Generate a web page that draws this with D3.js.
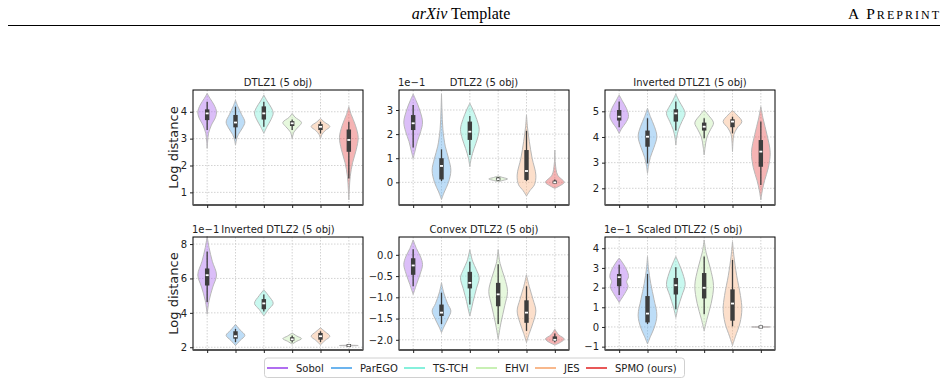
<!DOCTYPE html>
<html>
<head>
<meta charset="utf-8">
<script src="https://cdn.jsdelivr.net/npm/d3@7/dist/d3.min.js"></script>
<style>
  body { margin: 0; background: #fff; }
  svg text { font-family: "DejaVu Sans", sans-serif; fill: #222; }
  .hdr { font-family: "Liberation Serif", serif; fill: #000; }
  .grid line { stroke: #c8c8c8; stroke-width: 0.8; stroke-dasharray: 1.5 1.5; }
  .axis path { display: none; }
  .axis line { stroke: #222; }
  .axis text { font-size: 10px; }
</style>
</head>
<body>
<svg id="chart" width="948" height="385"></svg>
<script>
const methods = ["Sobol", "ParEGO", "TS-TCH", "EHVI", "JES", "SPMO (ours)"]
const colors = ["#b06ef0", "#6cb4ee", "#86f0dc", "#c8f0b4", "#f8b88c", "#e85858"]

const titles = ["DTLZ1 (5 obj)", "DTLZ2 (5 obj)", "Inverted DTLZ1 (5 obj)",
  "Inverted DTLZ2 (5 obj)", "Convex DTLZ2 (5 obj)", "Scaled DTLZ2 (5 obj)"]
const offsets = ["", "1e\u22121", "", "1e\u22121", "", "1e\u22121"]
const yDomains = [[0.53, 4.81], [-0.94, 3.83], [1.35, 5.83], [1.84, 8.41], [-2.24, 0.42], [-1.17, 4.57]]
const yTicks = [[1, 2, 3, 4], [0, 1, 2, 3], [2, 3, 4, 5], [2, 4, 6, 8], [-2, -1.5, -1, -0.5, 0], [-1, 0, 1, 2, 3, 4]]
const tickFmt = ["d", "d", "d", "d", ".1f", "d"]

// box stats per method: [whisker low, q1, median, q3, whisker high]
const boxDTLZ1 = [[3.32, 3.69, 3.94, 4.09, 4.37], [3.0, 3.42, 3.6, 3.88, 4.19], [3.44, 3.71, 3.94, 4.2, 4.37],
  [3.32, 3.47, 3.57, 3.65, 3.71], [3.19, 3.32, 3.44, 3.54, 3.63], [1.52, 2.51, 2.95, 3.34, 3.63]]
const boxDTLZ2 = [[1.45, 2.17, 2.45, 2.79, 3.21], [0.05, 0.12, 0.68, 1.0, 1.37], [1.13, 1.76, 2.1, 2.52, 2.75],
  [0.06, 0.08, 0.13, 0.2, 0.22], [0.05, 0.1, 0.47, 1.34, 2.14], [-0.05, -0.03, 0.0, 0.05, 0.12]]
const boxInvDTLZ1 = [[4.38, 4.64, 4.79, 5.05, 5.38], [2.97, 3.62, 4.01, 4.25, 4.73], [4.25, 4.6, 4.92, 5.08, 5.38],
  [3.95, 4.25, 4.4, 4.56, 4.73], [4.14, 4.38, 4.6, 4.69, 4.79], [2.13, 2.84, 3.43, 3.88, 4.6]]
const boxInvDTLZ2 = [[4.61, 5.59, 6.19, 6.58, 7.57], [2.3, 2.5, 2.64, 2.93, 3.07], [4.08, 4.21, 4.55, 4.8, 5.06],
  [2.28, 2.38, 2.46, 2.58, 2.68], [2.3, 2.44, 2.64, 2.83, 2.93], [2.1, 2.1, 2.1, 2.1, 2.1]]
const boxConvex = [[-0.74, -0.47, -0.25, -0.08, 0.13], [-1.63, -1.44, -1.36, -1.17, -0.89], [-1.17, -0.79, -0.66, -0.4, -0.16],
  [-1.63, -1.21, -0.93, -0.66, -0.22], [-1.79, -1.6, -1.36, -1.07, -0.74], [-2.06, -2.03, -2.0, -1.92, -1.85]]
const boxScaled = [[1.62, 2.07, 2.53, 2.69, 3.16], [0.15, 0.23, 0.68, 1.57, 2.69], [0.9, 1.65, 2.12, 2.49, 3.03],
  [0.65, 1.45, 1.99, 2.74, 3.58], [0.03, 0.32, 1.19, 1.91, 3.41], [0, 0, 0, 0, 0]]

// violin outlines per method: [value, relative half width]
const violinDTLZ1 = [
  [[4.68, 0], [4.5, 0.3], [4.25, 0.75], [4.0, 1], [3.8, 0.9], [3.5, 0.45], [3.2, 0.15], [2.9, 0.05], [2.64, 0]],
  [[4.43, 0], [4.2, 0.25], [3.9, 0.65], [3.62, 1], [3.4, 0.75], [3.15, 0.3], [2.95, 0.1], [2.76, 0]],
  [[4.62, 0], [4.4, 0.35], [4.15, 0.8], [3.95, 1], [3.7, 0.75], [3.45, 0.35], [3.2, 0]],
  [[3.94, 0], [3.8, 0.3], [3.6, 1], [3.45, 0.7], [3.25, 0.2], [3.0, 0]],
  [[3.75, 0], [3.62, 0.4], [3.45, 1], [3.3, 0.5], [3.15, 0.15], [3.0, 0]],
  [[4.19, 0], [3.9, 0.25], [3.5, 0.7], [3.05, 1], [2.6, 0.8], [2.1, 0.4], [1.6, 0.15], [1.1, 0.05], [0.72, 0]]]
const violinDTLZ2 = [
  [[3.66, 0], [3.4, 0.3], [3.0, 0.7], [2.5, 1], [2.1, 0.8], [1.7, 0.45], [1.3, 0.2], [0.99, 0]],
  [[3.66, 0], [3.0, 0.05], [2.2, 0.15], [1.5, 0.4], [1.0, 0.75], [0.5, 1], [0.0, 0.75], [-0.4, 0.3], [-0.71, 0]],
  [[3.28, 0], [3.0, 0.35], [2.6, 0.75], [2.2, 1], [1.8, 0.8], [1.4, 0.45], [1.0, 0.15], [0.65, 0]],
  [[0.26, 0], [0.2, 0.5], [0.14, 1], [0.08, 0.5], [0.03, 0]],
  [[2.79, 0], [2.3, 0.1], [1.7, 0.3], [1.0, 0.6], [0.3, 1], [-0.1, 0.85], [-0.35, 0.35], [-0.57, 0]],
  [[1.34, 0], [0.8, 0.05], [0.3, 0.3], [0.0, 1], [-0.15, 0.5], [-0.25, 0]]]
const violinInvDTLZ1 = [
  [[5.64, 0], [5.4, 0.35], [5.1, 0.8], [4.8, 1], [4.55, 0.7], [4.35, 0.3], [4.14, 0]],
  [[5.12, 0], [4.8, 0.3], [4.4, 0.75], [4.02, 1], [3.6, 0.7], [3.2, 0.3], [2.85, 0.1], [2.58, 0]],
  [[5.68, 0], [5.4, 0.35], [5.15, 0.75], [4.92, 1], [4.6, 0.65], [4.3, 0.3], [4.0, 0.1], [3.69, 0]],
  [[5.05, 0], [4.85, 0.45], [4.55, 1], [4.3, 0.7], [4.0, 0.3], [3.6, 0.1], [3.3, 0]],
  [[5.03, 0], [4.85, 0.5], [4.6, 1], [4.35, 0.5], [4.1, 0.15], [3.8, 0.05], [3.43, 0]],
  [[5.18, 0], [4.7, 0.25], [4.1, 0.65], [3.4, 1], [2.8, 0.8], [2.3, 0.4], [1.9, 0.15], [1.55, 0]]]
const violinInvDTLZ2 = [
  [[8.45, 0], [7.8, 0.2], [7.0, 0.55], [6.2, 1], [5.5, 0.6], [4.7, 0.2], [3.92, 0]],
  [[3.33, 0], [3.0, 0.5], [2.69, 1], [2.4, 0.5], [2.1, 0]],
  [[5.34, 0], [5.0, 0.5], [4.55, 1], [4.2, 0.5], [3.82, 0]],
  [[2.83, 0], [2.65, 0.5], [2.5, 1], [2.35, 0.5], [2.18, 0]],
  [[3.13, 0], [2.9, 0.5], [2.64, 1], [2.4, 0.5], [2.14, 0]],
  [[2.12, 0], [2.1, 1], [2.08, 0]]]
const violinConvex = [
  [[0.35, 0], [0.15, 0.35], [-0.05, 0.8], [-0.23, 1], [-0.45, 0.75], [-0.7, 0.35], [-0.93, 0]],
  [[-0.66, 0], [-0.9, 0.25], [-1.15, 0.65], [-1.32, 1], [-1.5, 0.7], [-1.7, 0.25], [-1.83, 0]],
  [[0.12, 0], [-0.15, 0.3], [-0.35, 0.7], [-0.54, 1], [-0.8, 0.7], [-1.1, 0.35], [-1.3, 0.15], [-1.44, 0]],
  [[0.12, 0], [-0.2, 0.2], [-0.55, 0.7], [-0.86, 1], [-1.2, 0.7], [-1.6, 0.3], [-1.98, 0]],
  [[-0.47, 0], [-0.75, 0.3], [-1.05, 0.7], [-1.32, 1], [-1.6, 0.7], [-1.85, 0.3], [-2.06, 0]],
  [[-1.75, 0], [-1.88, 0.4], [-1.98, 1], [-2.06, 0.6], [-2.12, 0]]]
const violinScaled = [
  [[3.5, 0], [3.2, 0.45], [2.85, 0.85], [2.55, 1], [2.3, 0.8], [2.05, 0.95], [1.7, 0.6], [1.4, 0.2], [1.24, 0]],
  [[3.58, 0], [3.0, 0.1], [2.2, 0.35], [1.4, 0.7], [0.6, 1], [0.0, 0.75], [-0.5, 0.3], [-0.86, 0]],
  [[3.58, 0], [3.2, 0.35], [2.7, 0.75], [2.15, 1], [1.6, 0.65], [1.0, 0.25], [0.48, 0]],
  [[4.42, 0], [3.8, 0.2], [3.0, 0.65], [2.1, 1], [1.2, 0.75], [0.4, 0.3], [-0.19, 0]],
  [[4.33, 0], [3.6, 0.15], [2.6, 0.45], [1.6, 0.85], [0.9, 1], [0.2, 0.8], [-0.5, 0.3], [-0.94, 0]],
  [[0.02, 0], [0.0, 1], [-0.02, 0]]]

const boxes = [boxDTLZ1, boxDTLZ2, boxInvDTLZ1, boxInvDTLZ2, boxConvex, boxScaled]
const violins = [violinDTLZ1, violinDTLZ2, violinInvDTLZ1, violinInvDTLZ2, violinConvex, violinScaled]

const colX = [[193, 363], [399, 569], [605, 775]]
const rowY = [[90, 205], [237, 350]]

const $svg = d3.select("#chart")

// page header
$svg.append("text").attr("class", "hdr").attr("x", 461).attr("y", 19)
  .attr("text-anchor", "middle").attr("font-size", 16)
  .html('<tspan font-style="italic">arXiv</tspan> Template')
$svg.append("text").attr("class", "hdr").attr("x", 848).attr("y", 18.5)
  .attr("textLength", 91).attr("lengthAdjust", "spacing")
  .html('<tspan font-size="15.5">A P</tspan><tspan font-size="12">REPRINT</tspan>')
$svg.append("line").attr("x1", 8).attr("x2", 940).attr("y1", 25.5).attr("y2", 25.5)
  .attr("stroke", "#000").attr("stroke-width", 1)

titles.forEach((title, p) => {
  const [x0, x1] = colX[p % 3]
  const [y0, y1] = rowY[Math.floor(p / 3)]
  const x = d3.scaleLinear().domain([-0.5, 5.5]).range([x0, x1])
  const y = d3.scaleLinear().domain(yDomains[p]).range([y1, y0])
  const band = x(1) - x(0)
  const hw = band * 0.33
  const g = $svg.append("g")

  // grid
  const grid = g.append("g").attr("class", "grid")
  grid.selectAll(".gy").data(yTicks[p]).enter().append("line")
    .attr("x1", x0).attr("x2", x1).attr("y1", d => y(d)).attr("y2", d => y(d))
  grid.selectAll(".gx").data(d3.range(methods.length)).enter().append("line")
    .attr("x1", d => x(d)).attr("x2", d => x(d)).attr("y1", y0).attr("y2", y1)

  // violins
  const area = d3.area()
    .curve(d3.curveCatmullRom)
    .y(d => y(d[0]))
  violins[p].forEach((prof, i) => {
    const cx = x(i)
    area.x0(d => cx - d[1] * hw).x1(d => cx + d[1] * hw)
    g.append("path").attr("d", area(prof))
      .attr("fill", colors[i]).attr("fill-opacity", 0.45)
      .attr("stroke", "#b8b8b8").attr("stroke-width", 1)
  })

  // inner boxes
  boxes[p].forEach((b, i) => {
    const cx = x(i)
    g.append("line").attr("x1", cx).attr("x2", cx).attr("y1", y(b[0])).attr("y2", y(b[4]))
      .attr("stroke", "#3d3d3d").attr("stroke-width", 1.3)
    const top = y(b[3]), bot = y(b[1])
    const h = Math.max(bot - top, 3)
    g.append("rect").attr("x", cx - 2.2).attr("width", 4.4)
      .attr("y", (top + bot) / 2 - h / 2).attr("height", h).attr("fill", "#3d3d3d")
    g.append("rect").attr("x", cx - 1.5).attr("width", 3).attr("y", y(b[2]) - 0.9).attr("height", 1.8)
      .attr("fill", "#fff")
  })

  // frame
  g.append("rect").attr("x", x0).attr("y", y0).attr("width", x1 - x0).attr("height", y1 - y0)
    .attr("fill", "none").attr("stroke", "#000").attr("stroke-width", 1)
  g.append("line").attr("x1", x0).attr("x2", x1).attr("y1", y1).attr("y2", y1)
    .attr("stroke", "#555").attr("stroke-width", 2)

  // axes
  const fmt = d3.format(tickFmt[p])
  g.append("g").attr("class", "axis").attr("transform", `translate(${x0},0)`)
    .call(d3.axisLeft(y).tickValues(yTicks[p]).tickSize(3).tickPadding(3)
      .tickFormat(d => fmt(d).replace("-", "\u2212")))
  g.append("g").attr("class", "axis").attr("transform", `translate(0,${y1})`)
    .call(d3.axisBottom(x).tickValues(d3.range(methods.length)).tickSize(3).tickFormat(""))

  g.append("text").attr("x", (x0 + x1) / 2).attr("y", y0 - 4)
    .attr("text-anchor", "middle").attr("font-size", 10).text(title)
  if (offsets[p]) {
    g.append("text").attr("x", x0 - 1).attr("y", y0 - 4).attr("font-size", 10).text(offsets[p])
  }
  if (p % 3 === 0) {
    g.append("text")
      .attr("transform", `translate(${x0 - 15},${(y0 + y1) / 2}) rotate(-90)`)
      .attr("text-anchor", "middle").attr("font-size", 13).text("Log distance")
  }
})

// legend
const lg = $svg.append("g")
lg.append("rect").attr("x", 264.5).attr("y", 358).attr("width", 420).attr("height", 19.5)
  .attr("rx", 3).attr("fill", "#fff").attr("stroke", "#d0d0d0")
const legendX = [267, 331, 404, 476, 535, 586]
methods.forEach((m, i) => {
  lg.append("line").attr("x1", legendX[i]).attr("x2", legendX[i] + 21).attr("y1", 368).attr("y2", 368)
    .attr("stroke", colors[i]).attr("stroke-width", 2)
  lg.append("text").attr("x", legendX[i] + 29).attr("y", 371.5).attr("font-size", 10).text(m)
})
</script>
</body>
</html>
